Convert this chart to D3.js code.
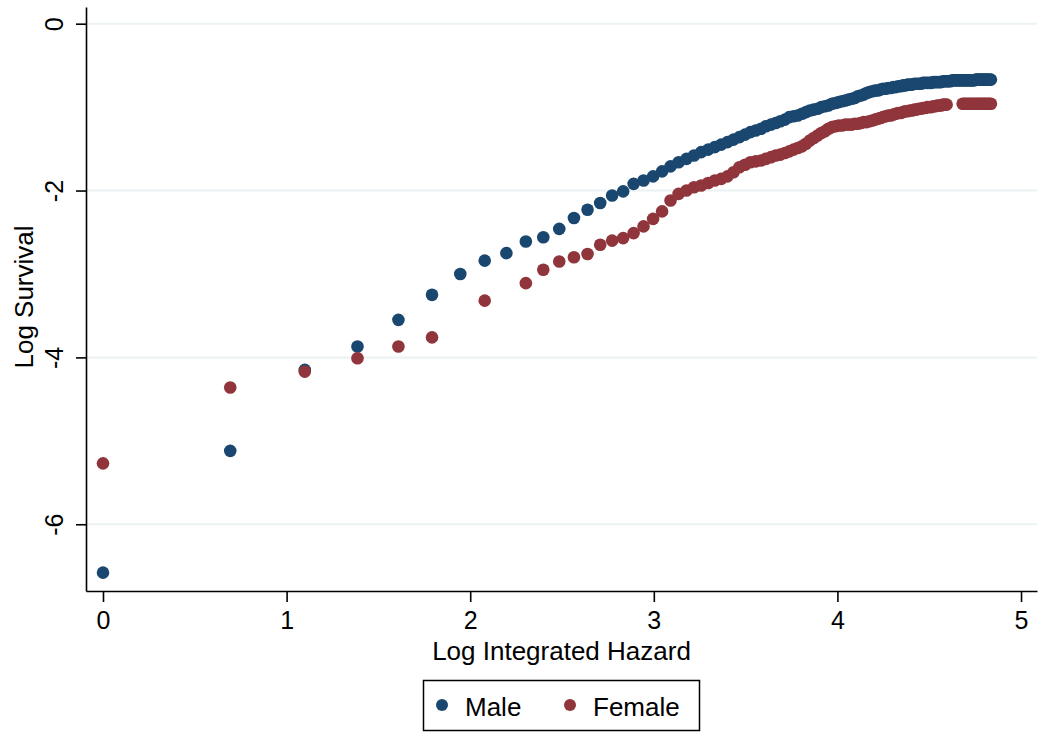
<!DOCTYPE html>
<html>
<head>
<meta charset="utf-8">
<script src="https://cdn.jsdelivr.net/npm/d3@7"></script>
<style>
  body { margin: 0; background: #fff; }
  text { font-family: "Liberation Sans", Arial, sans-serif; fill: #000; }
</style>
</head>
<body>
<div class="chart"></div>
<script>
// x values (log time), shared by both groups
var logTime = [0, 0.693, 1.099, 1.386, 1.609, 1.792, 1.946, 2.079, 2.197, 2.303,
  2.398, 2.485, 2.565, 2.639, 2.708, 2.773, 2.833, 2.890, 2.944, 2.996,
  3.045, 3.091, 3.135, 3.178, 3.219, 3.258, 3.296, 3.332, 3.367, 3.401,
  3.434, 3.466, 3.497, 3.526, 3.555, 3.584, 3.611, 3.638, 3.664, 3.689,
  3.714, 3.738, 3.761, 3.784, 3.807, 3.829, 3.850, 3.871, 3.892, 3.912,
  3.932, 3.951, 3.970, 3.989, 4.007, 4.025, 4.043, 4.060, 4.078, 4.094,
  4.111, 4.127, 4.143, 4.159, 4.174, 4.190, 4.205, 4.220, 4.234, 4.248,
  4.263, 4.277, 4.290, 4.304, 4.317, 4.331, 4.344, 4.357, 4.369, 4.382,
  4.394, 4.407, 4.419, 4.431, 4.443, 4.454, 4.466, 4.477, 4.489, 4.500,
  4.511, 4.522, 4.533, 4.543, 4.554, 4.564, 4.575, 4.585, 4.595, 4.605,
  4.615, 4.625, 4.635, 4.644, 4.654, 4.663, 4.673, 4.682, 4.691, 4.700,
  4.710, 4.718, 4.727, 4.736, 4.745, 4.754, 4.762, 4.771, 4.779, 4.787,
  4.796, 4.804, 4.812, 4.820, 4.828, 4.836];

var maleLogSurv = [-6.58, -5.12, -4.15, -3.87, -3.55, -3.25, -3.00, -2.84, -2.75, -2.61,
  -2.56, -2.46, -2.33, -2.23, -2.15, -2.06, -2.01, -1.92, -1.88, -1.83,
  -1.77, -1.71, -1.66, -1.62, -1.58, -1.54, -1.51, -1.48, -1.45, -1.42,
  -1.39, -1.36, -1.33, -1.30, -1.28, -1.26, -1.23, -1.21, -1.19, -1.17,
  -1.15, -1.12, -1.11, -1.10, -1.08, -1.06, -1.04, -1.03, -1.02, -1.00,
  -0.99, -0.98, -0.96, -0.95, -0.94, -0.93, -0.92, -0.91, -0.90, -0.89,
  -0.87, -0.86, -0.85, -0.83, -0.82, -0.81, -0.80, -0.80, -0.79, -0.78,
  -0.78, -0.77, -0.77, -0.76, -0.76, -0.75, -0.75, -0.74, -0.74, -0.73,
  -0.73, -0.73, -0.72, -0.72, -0.72, -0.72, -0.71, -0.71, -0.71, -0.71,
  -0.71, -0.70, -0.70, -0.70, -0.70, -0.70, -0.69, -0.69, -0.69, -0.69,
  -0.69, -0.68, -0.68, -0.68, -0.68, -0.68, -0.68, -0.68, -0.68, -0.68,
  -0.68, -0.68, -0.68, -0.68, -0.68, -0.67, -0.67, -0.67, -0.67, -0.67,
  -0.67, -0.67, -0.67, -0.67, -0.67, -0.67];

// null = no female point at that time
var femaleLogSurv = [-5.27, -4.36, -4.17, -4.01, -3.87, -3.76, null, -3.32, null, -3.11,
  -2.95, -2.85, -2.80, -2.76, -2.65, -2.60, -2.57, -2.51, -2.43, -2.34,
  -2.25, -2.12, -2.04, -2.00, -1.96, -1.94, -1.91, -1.88, -1.86, -1.83,
  -1.78, -1.72, -1.69, -1.66, -1.65, -1.64, -1.62, -1.60, -1.58, -1.57,
  -1.55, -1.53, -1.51, -1.49, -1.47, -1.44, -1.40, -1.37, -1.34, -1.31,
  -1.29, -1.26, -1.24, -1.23, -1.22, -1.22, -1.21, -1.21, -1.21, -1.20,
  -1.20, -1.19, -1.18, -1.18, -1.17, -1.16, -1.15, -1.14, -1.13, -1.12,
  -1.11, -1.10, -1.10, -1.09, -1.08, -1.07, -1.07, -1.06, -1.05, -1.05,
  -1.04, -1.04, -1.03, -1.03, -1.02, -1.02, -1.01, -1.01, -1.00, -1.00,
  -1.00, -0.99, -0.99, -0.98, -0.98, -0.98, -0.97, -0.97, -0.97, null,
  null, null, null, null, null, null, null, -0.96, -0.96, -0.96,
  -0.96, -0.96, -0.96, -0.96, -0.96, -0.96, -0.96, -0.96, -0.96, -0.96,
  -0.96, -0.96, -0.96, -0.96, -0.96, -0.96];

var seriesNames = ["Male", "Female"];
var seriesColors = ["#1a476f", "#90353b"];
var xTicks = [0, 1, 2, 3, 4, 5];
var yTicks = [0, -2, -4, -6];

var svgWidth = 1041;
var svgHeight = 732;

var svg = d3.select(".chart")
    .append("svg")
    .attr("width", svgWidth)
    .attr("height", svgHeight)
    .style("display", "block");

svg.append("rect")
    .attr("width", svgWidth)
    .attr("height", svgHeight)
    .attr("fill", "#fff");

// scales cover the full plot region (axis lines run edge to edge)
var xScale = d3.scaleLinear()
    .domain([-0.0926, 5.087])
    .range([86, 1037]);

var yScale = d3.scaleLinear()
    .domain([-6.8, 0.2])
    .range([591, 7]);

// gridlines
svg.append("g")
    .selectAll("line")
    .data(yTicks)
    .enter()
    .append("line")
    .attr("x1", xScale.range()[0])
    .attr("x2", xScale.range()[1])
    .attr("y1", d => yScale(d))
    .attr("y2", d => yScale(d))
    .attr("stroke", "#eaf2f3")
    .attr("stroke-width", 2);

// axes
var bottomAxis = d3.axisBottom(xScale)
    .tickValues(xTicks)
    .tickSize(11)
    .tickSizeOuter(0)
    .tickPadding(9)
    .tickFormat(d3.format("d"));

var leftAxis = d3.axisLeft(yScale)
    .tickValues(yTicks)
    .tickSize(10)
    .tickSizeOuter(0)
    .tickFormat(d => d < 0 ? "-" + Math.abs(d) : d);

var xAxisG = svg.append("g")
    .attr("transform", "translate(0, 591)")
    .call(bottomAxis);

var yAxisG = svg.append("g")
    .attr("transform", "translate(86, 0)")
    .call(leftAxis);

[xAxisG, yAxisG].forEach(function(g) {
    g.select(".domain").attr("stroke", "#000").attr("stroke-width", 1.6);
    g.selectAll(".tick line").attr("stroke", "#000").attr("stroke-width", 1.6);
    g.selectAll(".tick text")
        .attr("fill", "#000")
        .style("font-size", "25px")
        .style("font-family", "Liberation Sans, Arial, sans-serif");
});

// rotated y tick labels like Stata
yAxisG.selectAll(".tick text")
    .attr("x", null)
    .attr("dy", null)
    .attr("transform", "translate(-23, 0) rotate(-90)")
    .style("text-anchor", "middle");

// axis titles
svg.append("text")
    .attr("x", 561.5)
    .attr("y", 660)
    .style("text-anchor", "middle")
    .style("font-size", "26px")
    .text("Log Integrated Hazard");

svg.append("text")
    .attr("transform", "translate(33, 297) rotate(-90)")
    .style("text-anchor", "middle")
    .style("font-size", "26px")
    .text("Log Survival");

// points, male first so female sits on top
var series = [maleLogSurv, femaleLogSurv];
series.forEach(function(vals, i) {
    var pts = logTime.map((x, k) => ({ x: x, y: vals[k] }))
        .filter(d => d.y !== null);
    svg.append("g")
        .selectAll("circle")
        .data(pts)
        .enter()
        .append("circle")
        .attr("cx", d => xScale(d.x))
        .attr("cy", d => yScale(d.y))
        .attr("r", 6.3)
        .attr("fill", seriesColors[i]);
});

// legend
var legend = svg.append("g");
legend.append("rect")
    .attr("x", 423.5)
    .attr("y", 680.5)
    .attr("width", 276)
    .attr("height", 50)
    .attr("fill", "#fff")
    .attr("stroke", "#000")
    .attr("stroke-width", 1.5);

var legendX = [442, 570];
seriesNames.forEach(function(name, i) {
    legend.append("circle")
        .attr("cx", legendX[i])
        .attr("cy", 705)
        .attr("r", 6)
        .attr("fill", seriesColors[i]);
    legend.append("text")
        .attr("x", legendX[i] + 23)
        .attr("y", 716)
        .style("font-size", "26px")
        .text(name);
});
</script>
</body>
</html>
